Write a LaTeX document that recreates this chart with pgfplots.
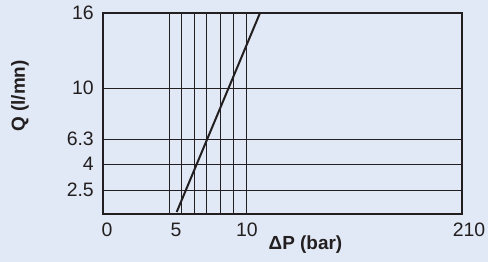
\documentclass[border=0pt]{standalone}
\usepackage{fontspec}
\setmainfont{Liberation Sans}
\usepackage{pgfplots}
\pgfplotsset{compat=1.18}
\definecolor{bg}{HTML}{E1E9F6}
\definecolor{linec}{HTML}{231F20}
\begin{document}
\begin{tikzpicture}
\path[use as bounding box, fill=bg] (0,0) rectangle (488bp,262bp);
\begin{axis}[
  at={(103bp,48bp)}, anchor=south west,
  scale only axis, width=359bp, height=201bp,
  xmin=0, xmax=359, ymin=0, ymax=201,
  axis line style={line width=2bp, color=linec},
  xtick={4,73,144}, xticklabels={0,5,10},
  extra x ticks={359}, extra x tick labels={210},
  extra x tick style={xticklabel style={xshift=7bp}},
  minor xtick={66.3,78.7,91,103.7,117.3,130.3,143},
  xminorgrids,
  minor grid style={line width=0.9bp, color=linec},
  ytick={24,50,75,126,201}, yticklabels={2.5,4,6.3,10,16},
  ymajorgrids,
  major grid style={line width=0.9bp, color=linec},
  major tick length=0pt, minor tick length=0pt,
  /pgf/number format/assume math mode=true,
  tick label style={font=\fontsize{19.5}{22}\selectfont, text=linec},
  xticklabel style={anchor=north, inner sep=0pt, yshift=-9bp},
  yticklabel style={anchor=east, inner sep=0pt, xshift=-9bp},
  xlabel={ΔP (bar)},
  ylabel={Q (l/mn)},
  label style={font=\bfseries\fontsize{19}{22}\selectfont, text=linec},
  xlabel style={at={(axis description cs:0.564,-0.154)}, anchor=center},
  ylabel style={at={(axis description cs:-0.231,0.587)}, anchor=center, rotate=0},
  clip=true,
]
\addplot[line width=2bp, color=linec, no marks] coordinates {(73.7,2) (157,201)};
\end{axis}
\end{tikzpicture}
\end{document}
